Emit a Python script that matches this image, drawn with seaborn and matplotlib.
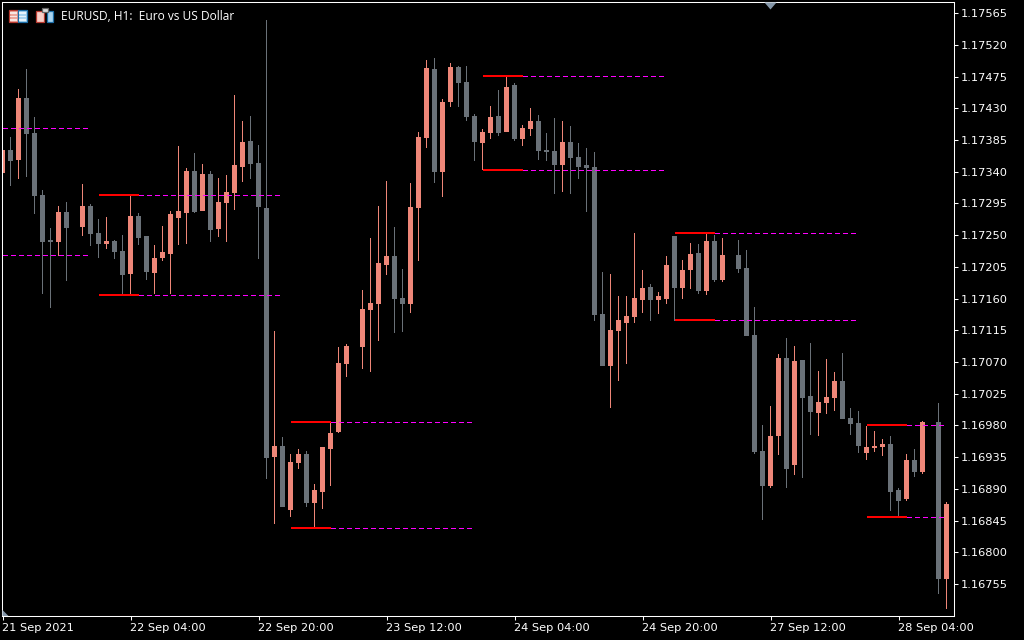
import numpy as np
import pandas as pd
import seaborn as sns
import matplotlib
matplotlib.use("Agg")
import matplotlib.pyplot as plt
from matplotlib.patches import Rectangle, Polygon

# EURUSD H1 prices, in points (1e-5), nan = bar missing from the chart
n = np.nan
opens = [117338,117371,117357,117445,117395,117307,117243,117240,117283,n,
         117261,117291,117253,117237,117242,117227,117195,117277,117249,117196,
         117217,117223,117274,117281,117341,117284,117337,117259,117296,117310,
         117347,117384,117352,117288,116935,116951,116860,116927,116939,116870,
         116886,116947,116971,117067,n,117091,117144,117152,117208,117220,
         117161,117152,117288,117388,117486,117340,117439,117489,117467,117419,
         117381,117395,117419,117396,117463,117386,117401,117412,117371,117369,
         117349,117382,117361,117349,117347,117138,117064,117114,117125,117134,
         117158,117176,117158,117159,117249,117175,117200,117225,117171,117242,
         117186,n,117222,117203,117108,116944,116894,116965,117076,116924,
         117073,117022,116998,117012,117019,117043,116990,116983,116941,116948,
         116949,116954,116888,116876,116931,116914,n,116985,116762]
highs = [117371,117389,117457,117486,117418,117314,117260,117291,117297,n,
         117322,117294,117273,117276,117243,117250,117307,117281,117249,117236,
         117263,117284,117376,117345,117366,117351,117341,117331,117335,117449,
         117412,117419,117378,117555,117114,116964,116939,116947,116944,116897,
         116949,116985,117091,117095,n,117172,117246,117291,117327,117261,
         117202,117324,117396,117498,117501,117443,117494,117490,117490,117422,
         117401,117433,117456,117476,117466,117406,117430,117420,117395,117416,
         117412,117405,117381,117374,117368,117198,117195,117164,117164,117253,
         117200,117181,117169,117220,117249,117215,117239,117237,117252,117250,
         117246,n,117243,117229,117148,116981,117007,117081,117104,117093,
         117073,117097,117057,117074,117056,117083,117005,117000,116979,116972,
         116961,116965,116891,116939,116947,116986,n,117012,116871]
lows = [117338,117320,117330,117332,117280,117166,117147,117220,117185,n,
        117249,117235,117217,117230,117216,117166,117165,117236,117186,117166,
        117213,117166,117236,117237,117281,117284,117240,117247,117240,117286,
        117325,117330,117216,116904,116840,116864,116850,116918,116864,116834,
        116861,116894,116969,117049,n,117060,117056,117100,117193,117111,
        117112,117139,117213,117374,117324,117304,117432,117432,117412,117355,
        117342,117386,117391,117396,117384,117376,117391,117357,117355,117308,
        117311,117308,117330,117283,117128,117064,117005,117043,117067,117125,
        117139,117128,117138,117152,117128,117159,117174,117166,117165,117183,
        117183,n,117196,117107,116939,116846,116891,116938,116891,116910,
        116905,116966,116965,116996,117000,116989,116966,116941,116931,116942,
        116937,116859,116850,116873,116907,116911,n,116741,116720]
closes = [117371,117355,117445,117393,117305,117240,117240,117283,117260,n,
          117291,117252,117237,117242,117226,117193,117277,117246,117198,117217,
          117226,117280,117284,117341,117283,117337,117257,117297,117311,117349,
          117382,117351,117290,116934,116951,116864,116928,116939,116870,116888,
          116949,116969,117069,117093,n,117145,117154,117210,117220,117159,
          117152,117290,117389,117487,117340,117439,117489,117466,117418,117382,
          117396,117418,117395,117460,117386,117402,117412,117369,117368,117349,
          117382,117359,117347,117345,117137,117064,117115,117130,117135,117161,
          117175,117158,117164,117208,117175,117200,117223,117171,117242,117186,
          117222,n,117202,117107,116942,116894,116965,117076,116918,117071,
          117019,116999,117013,117020,117043,116989,116982,116951,116949,116951,
          116954,116886,116873,116931,116914,116985,n,116762,116869]

# indicator levels: first bar, end of red part, end of dashed part, price in points
level_start = [12, 12, 36, 36, 60, 60, 84, 84, 108, 108]
level_mid = [17, 17, 41, 41, 65, 65, 89, 89, 113, 113]
level_end = [34.5, 34.5, 58.5, 58.5, 82.5, 82.5, 106.5, 106.5, 118, 118]
level_price = [117307, 117165, 116985, 116834, 117476, 117342, 117253, 117129, 116980, 116850]
old_level_end = 10.9
old_level_price = [117402, 117222]

price_ticks = [1.16755 + 0.00045 * k for k in range(19)]
time_ticks = [0, 16, 32, 48, 64, 80, 96, 112]
time_labels = ["21 Sep 2021", "22 Sep 04:00", "22 Sep 20:00", "23 Sep 12:00",
               "24 Sep 04:00", "24 Sep 20:00", "27 Sep 12:00", "28 Sep 04:00"]
title = "EURUSD, H1:  Euro vs US Dollar"

UP = "#EE8678"
DOWN = "#6A7178"
W, H = 1024, 640

sns.set_theme(style="dark", rc={"axes.facecolor": "black", "figure.facecolor": "black",
                                "axes.edgecolor": "white", "text.color": "white",
                                "xtick.color": "white", "ytick.color": "white"})
plt.rcParams["font.family"] = ["DejaVu Sans"]

df = pd.DataFrame({"bar": np.arange(len(opens)), "open": opens, "high": highs,
                   "low": lows, "close": closes}).dropna()
df[["open", "high", "low", "close"]] /= 1e5
df["top"] = df[["open", "close"]].max(axis=1)
df["bottom"] = df[["open", "close"]].min(axis=1)
df["up"] = df["close"] > df["open"]

fig = plt.figure(figsize=(W / 100, H / 100), dpi=100)
ax = fig.add_axes([2 / W, 1 - 616 / H, 952 / W, 614 / H])


def bars(d, lo, hi, width, color):
    # candle parts are floating bars, from lo up to hi
    sns.barplot(x=d["bar"].to_numpy(), y=(d[hi] - d[lo]).to_numpy(), bottom=d[lo].to_numpy(),
                native_scale=True, width=width, color=color, saturation=1, errorbar=None,
                linewidth=0, antialiased=False, ax=ax)


for is_up, color in [(True, UP), (False, DOWN)]:
    part = df[df["up"] == is_up]
    bars(part, "low", "high", 1 / 8, color)
    bars(part, "bottom", "top", 5 / 8, color)

# levels
dash = (3.2, 2.4)
for a, b, c, p in zip(level_start, level_mid, level_end, level_price):
    p = p / 1e5
    ax.plot([a, b], [p, p], color="#FF0000", lw=1.44, solid_capstyle="butt", zorder=5, antialiased=False)
    ax.plot([b, c], [p, p], color="#FF00FF", lw=0.9, dashes=dash, zorder=5, antialiased=False)
for p in old_level_price:
    ax.plot([0, old_level_end], [p / 1e5, p / 1e5], color="#FF00FF", lw=0.9,
            dashes=dash, zorder=5, antialiased=False)

ax.set_xlim(-0.0625, 118.9375)
ax.set_ylim(1.167096, 1.175807)
ax.grid(False)
ax.set_xlabel("")
ax.set_ylabel("")
for s in ax.spines.values():
    s.set_color("white")
    s.set_linewidth(0.75)

ax.yaxis.tick_right()
ax.set_yticks(price_ticks)
ax.set_yticklabels([f"{v:.5f}" for v in price_ticks])
ax.set_xticks(time_ticks)
ax.set_xticklabels(time_labels, ha="left")
ax.tick_params(axis="y", length=3, width=0.75, pad=1.5, labelsize=8.2, right=True, left=False)
ax.tick_params(axis="x", length=3, width=0.75, pad=2, labelsize=8.2, bottom=True)

fig.text(61 / W, 1 - 16.5 / H, title, fontsize=8.55, color="white", va="center", ha="left",
         family="Open Sans")


def box(x, y, w, h, color, edge=None):
    fig.patches.append(Rectangle((x / W, 1 - (y + h) / H), w / W, h / H, transform=fig.transFigure,
                                 facecolor=color, edgecolor=edge or color, linewidth=0.9 if edge else 0,
                                 figure=fig, zorder=6))


def tri(pts, color):
    fig.patches.append(Polygon([(x / W, 1 - y / H) for x, y in pts], closed=True, transform=fig.transFigure,
                               facecolor=color, edgecolor="none", figure=fig, zorder=6))


# toolbar icons at top left
box(8.5, 9.5, 9, 12.5, "#EFA79C", "#B83A30")
box(17.5, 9.5, 9, 12.5, "#A9D4F0", "#1C6EA8")
for row in (12, 15.5, 19):
    box(10, row, 6.5, 1.5, "#F9E6E2")
    box(19, row, 6.5, 1.5, "#E6F3FB")
box(35.5, 10.5, 8, 11.5, "#F9CFC8", "#B83A30")
box(46.5, 10.5, 6.5, 11.5, "#A9D4F0", "#1C6EA8")
box(41.5, 8.5, 6, 3.5, "#DDDDDD", "#666666")

# chart shift markers
tri([(764.5, 2.5), (776.5, 2.5), (770.5, 9.5)], "#8496A8")
tri([(2.5, 616), (2.5, 610), (8.5, 616)], "#8496A8")

fig.savefig("out.png", dpi=100, facecolor="black")
